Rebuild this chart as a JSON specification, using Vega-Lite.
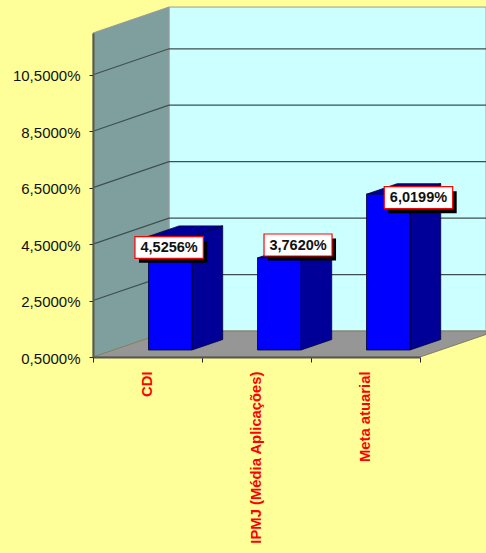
{"$schema":"https://vega.github.io/schema/vega-lite/v6.json","width":327,"height":324,"autosize":{"type":"none"},"padding":{"left":93,"top":33,"right":66,"bottom":196},"background":"#FFFF99","config":{"view":{"stroke":null},"font":"Liberation Sans"},
"datasets":{
"bars":[{"categoria":"CDI","valor":4.5256},{"categoria":"IPMJ (Média Aplicações)","valor":3.762},{"categoria":"Meta atuarial","valor":6.0199}],
"wall":[{"x":0,"low":0.5,"up":11.98},{"x":0.697,"low":1.421,"up":12.9}],
"back":[{"x":0.697,"x2":3.606,"low":1.421,"up":12.9}],
"floor":[{"x":0,"low":0.5,"up":0.5},{"x":0.697,"low":0.5,"up":1.421},{"x":3,"low":0.5,"up":1.421},{"x":3.606,"low":1.3,"up":1.421}],
"grid":[{"g":2.5,"x":0,"y":2.5},{"g":2.5,"x":0.697,"y":3.421},{"g":2.5,"x":3.606,"y":3.421},{"g":4.5,"x":0,"y":4.5},{"g":4.5,"x":0.697,"y":5.421},{"g":4.5,"x":3.606,"y":5.421},{"g":6.5,"x":0,"y":6.5},{"g":6.5,"x":0.697,"y":7.421},{"g":6.5,"x":3.606,"y":7.421},{"g":8.5,"x":0,"y":8.5},{"g":8.5,"x":0.697,"y":9.421},{"g":8.5,"x":3.606,"y":9.421},{"g":10.5,"x":0,"y":10.5},{"g":10.5,"x":0.697,"y":11.421},{"g":10.5,"x":3.606,"y":11.421}],
"sides":[{"c":"CDI","x":0.908,"low":0.748,"up":4.774},{"c":"CDI","x":1.19,"low":1.12,"up":5.146},{"c":"IPMJ","x":1.908,"low":0.748,"up":4.01},{"c":"IPMJ","x":2.19,"low":1.12,"up":4.382},{"c":"Meta","x":2.908,"low":0.748,"up":6.268},{"c":"Meta","x":3.19,"low":1.12,"up":6.64}],
"tops":[{"c":"CDI","x":0.509,"low":4.774,"up":4.774},{"c":"CDI","x":0.791,"low":4.774,"up":5.146},{"c":"CDI","x":0.908,"low":4.774,"up":5.146},{"c":"CDI","x":1.19,"low":5.146,"up":5.146},{"c":"IPMJ","x":1.509,"low":4.01,"up":4.01},{"c":"IPMJ","x":1.791,"low":4.01,"up":4.382},{"c":"IPMJ","x":1.908,"low":4.01,"up":4.382},{"c":"IPMJ","x":2.19,"low":4.382,"up":4.382},{"c":"Meta","x":2.509,"low":6.268,"up":6.268},{"c":"Meta","x":2.791,"low":6.268,"up":6.64},{"c":"Meta","x":2.908,"low":6.268,"up":6.64},{"c":"Meta","x":3.19,"low":6.64,"up":6.64}],
"labels":[{"rotulo":"4,5256%","x1":0.385,"x2":1.012,"xc":0.6985,"y1":3.997,"y2":4.763,"yc":4.36},{"rotulo":"3,7620%","x1":1.569,"x2":2.193,"xc":1.881,"y1":4.079,"y2":4.859,"yc":4.449},{"rotulo":"6,0199%","x1":2.672,"x2":3.3,"xc":2.986,"y1":5.755,"y2":6.535,"yc":6.125}]
},
"encoding":{"y":{"field":"up","type":"quantitative","scale":{"domain":[0.5,11.98],"nice":false,"zero":false},"axis":null}},
"layer":[
{"data":{"name":"back"},"mark":{"type":"rect","fill":"#CCFFFF","stroke":"#9a9a9a","strokeWidth":1},"encoding":{"x":{"field":"x","type":"quantitative","scale":{"domain":[0,3],"nice":false,"zero":false},"axis":null},"x2":{"field":"x2"},"y2":{"field":"low"}}},
{"data":{"name":"wall"},"mark":{"type":"area","fill":"#7F9F9F","stroke":"#9a9a9a","strokeWidth":1},"encoding":{"x":{"field":"x","type":"quantitative","scale":{"domain":[0,3],"nice":false,"zero":false},"axis":null},"y2":{"field":"low"}}},
{"data":{"name":"floor"},"mark":{"type":"area","fill":"#969696","stroke":"#7f7f60","strokeWidth":1},"encoding":{"x":{"field":"x","type":"quantitative","scale":{"domain":[0,3],"nice":false,"zero":false},"axis":{"title":null,"orient":"bottom","values":[0,1,2,3],"labels":false,"tickSize":5,"tickColor":"#222222","domainColor":"#555555","domainWidth":2,"grid":false,"zindex":1}},"y2":{"field":"low"}}},
{"data":{"name":"grid"},"mark":{"type":"line","stroke":"#3f4f4f","strokeWidth":1.2},"encoding":{"x":{"field":"x","type":"quantitative","scale":{"domain":[0,3],"nice":false,"zero":false},"axis":null},"y":{"field":"y","type":"quantitative","scale":{"domain":[0.5,11.98],"nice":false,"zero":false},"axis":null},"detail":{"field":"g"}}},
{"data":{"name":"sides"},"mark":{"type":"area","fill":"#000099","stroke":"#000033","strokeWidth":0.8},"encoding":{"x":{"field":"x","type":"quantitative","scale":{"domain":[0,3],"nice":false,"zero":false},"axis":null},"y2":{"field":"low"},"detail":{"field":"c"}}},
{"data":{"name":"tops"},"mark":{"type":"area","fill":"#000099","stroke":"#000033","strokeWidth":0.8},"encoding":{"x":{"field":"x","type":"quantitative","scale":{"domain":[0,3],"nice":false,"zero":false},"axis":null},"y2":{"field":"low"},"detail":{"field":"c"}}},
{"data":{"name":"bars"},"mark":{"type":"bar","fill":"#0000FF","stroke":"#000033","strokeWidth":0.8,"xOffset":22.75,"x2Offset":22.75,"yOffset":-7,"y2Offset":-7},"encoding":{
"x":{"field":"categoria","type":"nominal","sort":null,"scale":{"paddingInner":0.601,"paddingOuter":0.3005},"axis":{"title":null,"orient":"bottom","labelAngle":-90,"labelAlign":"right","labelBaseline":"middle","labelColor":"#FF0000","labelFontWeight":"bold","labelFontSize":14.8,"labelFont":"Liberation Sans","labelPadding":14,"labelLimit":200,"ticks":false,"tickSize":5,"domain":false,"grid":false,"zindex":1}},
"y":{"field":"valor","type":"quantitative","scale":{"domain":[0.5,11.98],"nice":false,"zero":false},"axis":{"title":null,"orient":"left","values":[0.5,2.5,4.5,6.5,8.5,10.5],"labelExpr":"replace(format(datum.value,'.4f'),'.',',')+'%'","labelFontSize":15,"labelFont":"Liberation Sans","labelColor":"#111111","labelPadding":9,"labelOffset":1,"tickSize":4,"tickColor":"#222222","domainColor":"#5a5a40","domainWidth":2,"grid":false,"zindex":1}},
"y2":{"datum":0.5}}},
{"data":{"name":"labels"},"mark":{"type":"rect","fill":"#000000","xOffset":4,"x2Offset":4,"yOffset":4.5,"y2Offset":4.5},"encoding":{"x":{"field":"x1","type":"quantitative","scale":{"domain":[0,3],"nice":false,"zero":false},"axis":null},"x2":{"field":"x2"},"y":{"field":"y1","type":"quantitative","scale":{"domain":[0.5,11.98],"nice":false,"zero":false},"axis":null},"y2":{"field":"y2"}}},
{"data":{"name":"labels"},"mark":{"type":"rect","fill":"#FFFFFF","stroke":"#FF0000","strokeWidth":1.2},"encoding":{"x":{"field":"x1","type":"quantitative","scale":{"domain":[0,3],"nice":false,"zero":false},"axis":null},"x2":{"field":"x2"},"y":{"field":"y1","type":"quantitative","scale":{"domain":[0.5,11.98],"nice":false,"zero":false},"axis":null},"y2":{"field":"y2"}}},
{"data":{"name":"labels"},"mark":{"type":"text","font":"Liberation Sans","fontWeight":"bold","fontSize":14.5,"fill":"#111111","align":"center","baseline":"middle"},"encoding":{"x":{"field":"xc","type":"quantitative","scale":{"domain":[0,3],"nice":false,"zero":false},"axis":null},"y":{"field":"yc","type":"quantitative","scale":{"domain":[0.5,11.98],"nice":false,"zero":false},"axis":null},"text":{"field":"rotulo"}}}
],
"resolve":{"scale":{"x":"independent"},"axis":{"x":"independent","y":"independent"}}}
